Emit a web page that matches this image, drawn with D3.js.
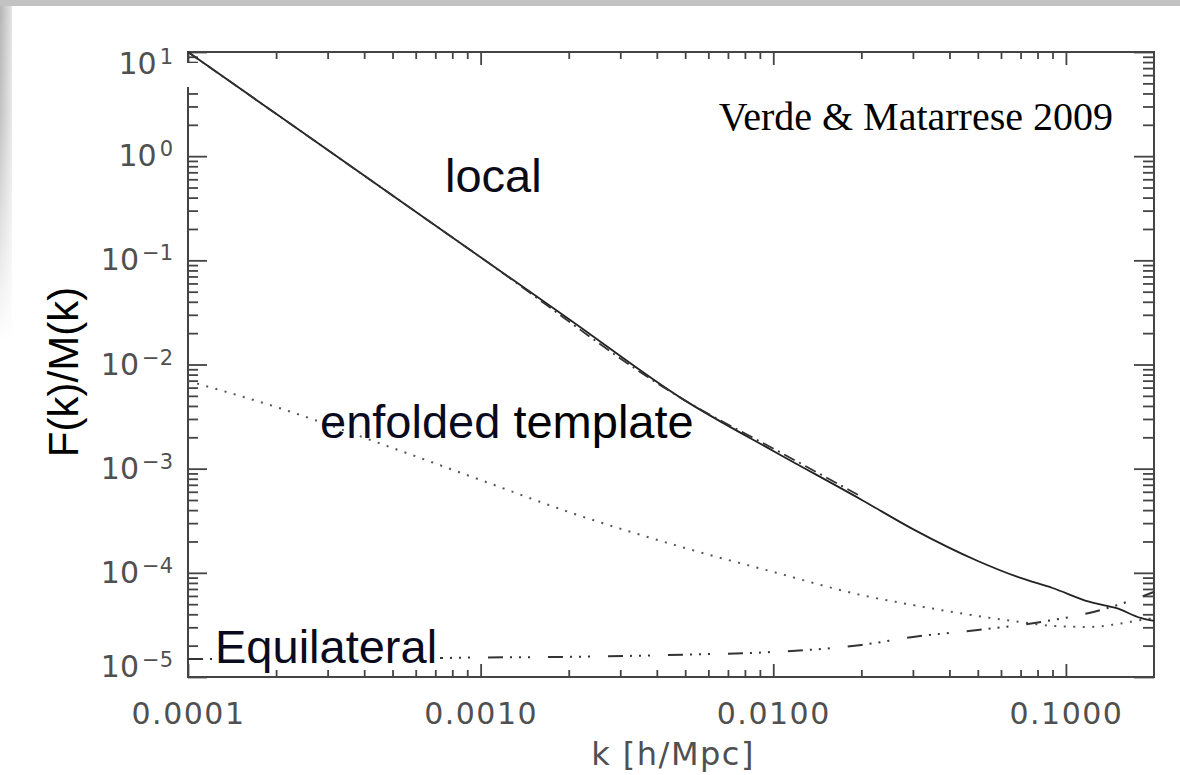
<!DOCTYPE html>
<html>
<head>
<meta charset="utf-8">
<script src="https://cdnjs.cloudflare.com/ajax/libs/d3/7.8.5/d3.min.js"></script>
<style>
  html, body { margin: 0; padding: 0; background: #fff; }
  svg { display: block; }
</style>
</head>
<body>
<div id="chart"></div>
<script>
// k values [h/Mpc] shared by the curves
const kGrid = [1e-4, 2e-4, 5e-4, 1e-3, 2e-3, 5e-3, 0.01, 0.02, 0.03, 0.05, 0.07, 0.09, 0.12, 0.15, 0.18, 0.2];

// F(k)/M(k)
const localSolid = [10, 2.55, 0.42, 0.107, 0.0274, 4.5e-3, 1.48e-3, 5.04e-4, 2.63e-4, 1.30e-4, 8.93e-5, 7.15e-5, 5.28e-5, 4.55e-5, 3.69e-5, 3.45e-5];
const enfolded = [6.95e-3, 3.91e-3, 1.58e-3, 7.78e-4, 3.84e-4, 1.73e-4, 1.02e-4, 6.12e-5, 4.91e-5, 3.85e-5, 3.37e-5, 3.09e-5, 3.02e-5, 3.23e-5, 3.52e-5, 3.69e-5];
const equilateral = [1.49e-5, 1.49e-5, 1.50e-5, 1.54e-5, 1.56e-5, 1.64e-5, 1.74e-5, 2.03e-5, 2.42e-5, 2.83e-5, 3.16e-5, 3.52e-5, 4.12e-5, 4.91e-5, 5.86e-5, 6.55e-5];

// second local curve (dash-dot), stops near k = 0.02
const localDashK = [1e-4, 1e-3, 5e-3, 0.0105, 0.0195];
const localDash = [10, 0.107, 4.5e-3, 1.45e-3, 5.6e-4];

const xTickValues = [1e-4, 1e-3, 1e-2, 1e-1];
const xTickLabels = ["0.0001", "0.0010", "0.0100", "0.1000"];
const yTickValues = [1e1, 1e0, 1e-1, 1e-2, 1e-3, 1e-4, 1e-5];
const yTickExponents = ["1", "0", "\u22121", "\u22122", "\u22123", "\u22124", "\u22125"];

const width = 1180, height = 775;
const plotLeft = 188, plotRight = 1154, plotTop = 52, plotBottom = 677;

const svg = d3.select("#chart").append("svg")
    .attr("width", width)
    .attr("height", height);

// slide background edges
const defs = svg.append("defs");
const hGrad = defs.append("linearGradient").attr("id", "edgeH")
    .attr("x1", "0").attr("x2", "1").attr("y1", "0").attr("y2", "0");
hGrad.append("stop").attr("offset", "0").attr("stop-color", "#b4b4b4");
hGrad.append("stop").attr("offset", "1").attr("stop-color", "#e4e4e4");
const vFade = defs.append("linearGradient").attr("id", "edgeV")
    .attr("x1", "0").attr("x2", "0").attr("y1", "0").attr("y2", "1");
vFade.append("stop").attr("offset", "0").attr("stop-color", "#fff").attr("stop-opacity", 0);
vFade.append("stop").attr("offset", "0.35").attr("stop-color", "#fff").attr("stop-opacity", 0.2);
vFade.append("stop").attr("offset", "1").attr("stop-color", "#fff").attr("stop-opacity", 1);

svg.append("rect").attr("x", 0).attr("y", 0).attr("width", 12).attr("height", 340).attr("fill", "url(#edgeH)");
svg.append("rect").attr("x", 0).attr("y", 0).attr("width", 12).attr("height", 340).attr("fill", "url(#edgeV)");
svg.append("rect").attr("x", 0).attr("y", 0).attr("width", width).attr("height", 6).attr("fill", "#c2c2c2");

const x = d3.scaleLog().domain([1e-4, 0.2]).range([plotLeft, plotRight]);
const y = d3.scaleLog().domain([1e-5, 10]).range([plotBottom, plotTop]);

function minorTicks(domain) {
  const out = [];
  for (let e = Math.floor(Math.log10(domain[0])); e < Math.ceil(Math.log10(domain[1])); e++) {
    for (let m = 2; m <= 9; m++) {
      const v = m * Math.pow(10, e);
      if (v > domain[0] && v < domain[1]) out.push(v);
    }
  }
  return out;
}
const xMinor = minorTicks(x.domain());
const yMinor = minorTicks(y.domain());

const axisColor = "#444";
function styleAxis(g) {
  g.select(".domain").remove();
  g.selectAll(".tick line").attr("stroke", axisColor).attr("stroke-width", 1.8);
}

// minor ticks, pointing inward
svg.append("g").attr("transform", `translate(0,${plotBottom})`)
    .call(d3.axisBottom(x).tickValues(xMinor).tickSize(-7).tickFormat(""))
    .call(styleAxis);
svg.append("g").attr("transform", `translate(0,${plotTop})`)
    .call(d3.axisTop(x).tickValues(xMinor).tickSize(-7).tickFormat(""))
    .call(styleAxis);
svg.append("g").attr("transform", `translate(${plotLeft},0)`)
    .call(d3.axisLeft(y).tickValues(yMinor).tickSize(-10).tickFormat(""))
    .call(styleAxis);
svg.append("g").attr("transform", `translate(${plotRight},0)`)
    .call(d3.axisRight(y).tickValues(yMinor).tickSize(-11).tickFormat(""))
    .call(styleAxis);

// major ticks
const tickFont = "'DejaVu Sans', sans-serif";
svg.append("g").attr("transform", `translate(0,${plotBottom})`)
    .call(d3.axisBottom(x).tickValues(xTickValues).tickSizeInner(-13).tickSizeOuter(0)
      .tickPadding(26).tickFormat((d, i) => xTickLabels[i]))
    .call(styleAxis)
    .call(g => g.selectAll(".tick text")
      .attr("fill", "#505050")
      .attr("font-family", tickFont)
      .attr("font-size", 30)
      .attr("letter-spacing", 1.5));
svg.append("g").attr("transform", `translate(0,${plotTop})`)
    .call(d3.axisTop(x).tickValues(xTickValues).tickSize(-13).tickFormat(""))
    .call(styleAxis);
svg.append("g").attr("transform", `translate(${plotRight},0)`)
    .call(d3.axisRight(y).tickValues(yTickValues).tickSize(-20).tickFormat(""))
    .call(styleAxis);

const yAxis = svg.append("g").attr("transform", `translate(${plotLeft},0)`)
    .call(d3.axisLeft(y).tickValues(yTickValues).tickSizeInner(-19).tickSizeOuter(0)
      .tickPadding(15).tickFormat(""))
    .call(styleAxis);

yAxis.selectAll(".tick text")
    .attr("fill", "#505050")
    .attr("font-family", tickFont)
    .attr("font-size", 30)
    .attr("dy", "0.32em")
    .attr("transform", (d, i) => i === 0 ? "translate(0,12)" : (i === yTickValues.length - 1 ? "translate(0,-10)" : null))
    .each(function(d, i) {
      const t = d3.select(this);
      t.append("tspan").text("10");
      t.append("tspan").attr("font-size", 21).attr("dy", -10).attr("dx", 3).text(yTickExponents[i]);
    });

// frame
svg.append("rect")
    .attr("x", plotLeft).attr("y", plotTop)
    .attr("width", plotRight - plotLeft).attr("height", plotBottom - plotTop)
    .attr("fill", "none")
    .attr("stroke", axisColor)
    .attr("stroke-width", 2);

// the left axis is broken just below the top corner in the source figure
svg.append("rect").attr("x", 186).attr("y", 63).attr("width", 14).attr("height", 24).attr("fill", "#fff");

// axis titles
svg.append("text")
    .attr("x", (plotLeft + plotRight) / 2 + 2)
    .attr("y", 765)
    .attr("text-anchor", "middle")
    .attr("fill", "#505050")
    .attr("font-family", tickFont)
    .attr("font-size", 32)
    .attr("letter-spacing", 1.5)
    .text("k [h/Mpc]");

svg.append("text")
    .attr("transform", "translate(78,372) rotate(-90)")
    .attr("text-anchor", "middle")
    .attr("fill", "#000")
    .attr("font-family", "'Liberation Sans', Arial, sans-serif")
    .attr("font-size", 42)
    .text("F(k)/M(k)");

// curves
const line = d3.line()
    .x(d => x(d[0]))
    .y(d => y(d[1]))
    .curve(d3.curveMonotoneX);

const plot = svg.append("g");

plot.append("path")
    .datum(kGrid.map((k, i) => [k, enfolded[i]]))
    .attr("d", line)
    .attr("fill", "none")
    .attr("stroke", "#555")
    .attr("stroke-width", 2)
    .attr("stroke-dasharray", "2,7.5");

plot.append("path")
    .datum(kGrid.map((k, i) => [k, equilateral[i]]))
    .attr("d", line)
    .attr("fill", "none")
    .attr("stroke", "#333")
    .attr("stroke-width", 2)
    .attr("stroke-dasharray", "15,7,2,7,2,7,2,18");

plot.append("path")
    .datum(kGrid.map((k, i) => [k, localSolid[i]]))
    .attr("d", line)
    .attr("fill", "none")
    .attr("stroke", "#222")
    .attr("stroke-width", 1.8);

plot.append("path")
    .datum(localDashK.map((k, i) => [k, localDash[i]]))
    .attr("d", line)
    .attr("fill", "none")
    .attr("stroke", "#333")
    .attr("stroke-width", 1.8)
    .attr("stroke-dasharray", "12,5,2,5");

// labels
const labelFont = "'Liberation Sans', Arial, sans-serif";
svg.append("text").attr("x", 445).attr("y", 192)
    .attr("font-family", labelFont).attr("font-size", 47).attr("fill", "#0b0b18")
    .text("local");

svg.append("text").attr("x", 320).attr("y", 438)
    .attr("font-family", labelFont).attr("font-size", 47).attr("fill", "#000")
    .call(t => {
      t.append("tspan").attr("fill", "#0b0b20").text("enfolded");
      t.append("tspan").text(" template");
    });

svg.append("rect").attr("x", 212).attr("y", 627).attr("width", 228).attr("height", 40).attr("fill", "#fff");
svg.append("text").attr("x", 215).attr("y", 663)
    .attr("font-family", labelFont).attr("font-size", 47).attr("fill", "#0b0b20")
    .text("Equilateral");

svg.append("text").attr("x", 1113).attr("y", 130)
    .attr("text-anchor", "end")
    .attr("font-family", "'Liberation Serif', 'Times New Roman', serif")
    .attr("font-size", 40).attr("fill", "#000")
    .text("Verde & Matarrese 2009");
</script>
</body>
</html>
